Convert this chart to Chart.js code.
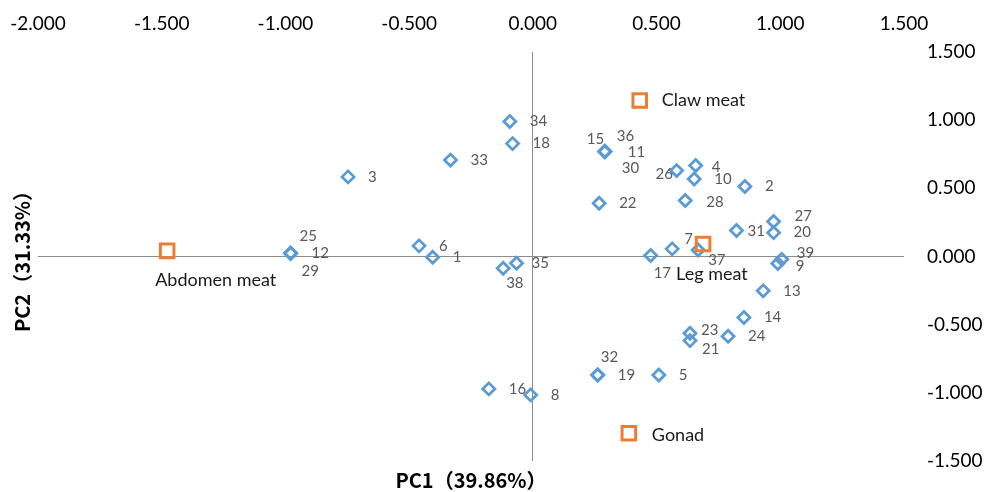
<!DOCTYPE html>
<html>
<head>
<meta charset="utf-8">
<script src="https://cdn.jsdelivr.net/npm/chart.js@4/dist/chart.umd.min.js"></script>
<style>
  html, body { margin: 0; padding: 0; background: #fff; }
  #wrap { width: 987px; height: 492px; }
</style>
</head>
<body>
<div id="wrap"><canvas id="c" width="987" height="492"></canvas></div>
<script>
// ---- data ----
const sampleIds = ['1','2','3','4','5','6','7','8','9','10','11','12','13','14','15','16','17','18','19','20',
                   '21','22','23','24','25','26','27','28','29','30','31','32','33','34','35','36','37','38','39'];
const samplePC1 = [-0.405, 0.857, -0.747, 0.658, 0.509, -0.460, 0.563, -0.009, 0.990, 0.652,
                    0.291, -0.979, 0.931, 0.853, 0.291, -0.178, 0.476, -0.082, 0.262, 0.973,
                    0.635, 0.268, 0.635, 0.789, -0.979, 0.581, 0.973, 0.616, -0.979, 0.291,
                    0.823, 0.262, -0.333, -0.093, -0.066, 0.291, 0.668, -0.120, 1.006];
const samplePC2 = [-0.005, 0.513, 0.584, 0.667, -0.869, 0.078, 0.056, -1.015, -0.051, 0.569,
                    0.770, 0.024, -0.252, -0.447, 0.770, -0.971, 0.007, 0.828, -0.869, 0.175,
                   -0.617, 0.391, -0.563, -0.585, 0.024, 0.630, 0.256, 0.410, 0.024, 0.770,
                    0.190, -0.869, 0.707, 0.990, -0.049, 0.770, 0.048, -0.086, -0.021];
const tissueNames = ['Claw meat', 'Leg meat', 'Gonad', 'Abdomen meat'];
const tissuePC1 = [0.432, 0.688, 0.388, -1.478];
const tissuePC2 = [1.144, 0.092, -1.296, 0.041];
const xTickRange = { min: -2, max: 1.5, step: 0.5 };
const yTickRange = { min: -1.5, max: 1.5, step: 0.5 };
const xTitle = 'PC1（39.86%）';
const yTitle = 'PC2（31.33%）';

// ---- label placement (style only: offsets in px from the marker) ----
const labelOffsets = {
  '25': [9, -17], '29': [11, 18], '12': [21, 0], '38': [3, 15], '35': [15, 0],
  '15': [-18, -12], '36': [12, -15], '11': [23, 1], '30': [17, 17], '26': [-21, 4],
  '4': [16, 2], '31': [11, 1], '7': [12, -10], '37': [10, 10], '17': [3, 18],
  '39': [15, -6], '9': [18, 3], '27': [21, -5], '23': [11, -3], '21': [12, 9],
  '32': [3, -18], '28': [21, 2],
  'Claw meat': [22, 0], 'Leg meat': [-27, 30], 'Gonad': [23, 2], 'Abdomen meat': [-12, 29]
};
const defaultOffset = [20, 0];

const samplePoints = samplePC1.map((v, i) => ({ x: v, y: samplePC2[i], label: sampleIds[i] }));
const tissuePoints = tissuePC1.map((v, i) => ({ x: v, y: tissuePC2[i], label: tissueNames[i] }));

const labelPlugin = {
  id: 'pointLabels',
  afterDatasetsDraw(chart) {
    const ctx = chart.ctx;
    ctx.save();
    ctx.textAlign = 'left';
    ctx.textBaseline = 'middle';
    chart.data.datasets.forEach((ds, di) => {
      const meta = chart.getDatasetMeta(di);
      ctx.font = ds.labelFont;
      ctx.fillStyle = ds.labelColor;
      meta.data.forEach((el, i) => {
        const lab = ds.data[i].label;
        const off = labelOffsets[lab] || defaultOffset;
        ctx.fillText(lab, el.x + off[0], el.y + off[1]);
      });
    });
    ctx.restore();
  }
};

const zeroLine = (c) => (c.tick && Math.abs(c.tick.value) < 1e-9) ? '#8c8c8c' : 'rgba(0,0,0,0)';
const tickFont = { family: 'Lato, "Open Sans", sans-serif', size: 19 };
const titleFont = { family: '"Noto Sans CJK SC", sans-serif', size: 20, weight: 'bold' };

new Chart(document.getElementById('c'), {
  type: 'scatter',
  data: {
    datasets: [
      {
        label: 'samples',
        data: samplePoints,
        order: 2,
        pointStyle: 'rectRot',
        pointRadius: 6,
        pointHoverRadius: 6,
        borderColor: '#5b9bd5',
        backgroundColor: 'rgba(0,0,0,0)',
        pointBorderWidth: 2.8,
        labelFont: '15px Lato, "Open Sans", sans-serif',
        labelColor: '#595959'
      },
      {
        label: 'tissues',
        data: tissuePoints,
        order: 1,
        pointStyle: 'rect',
        pointRadius: 9.6,
        pointHoverRadius: 9.6,
        borderColor: '#ed7d31',
        backgroundColor: 'rgba(0,0,0,0)',
        pointBorderWidth: 3,
        labelFont: '18px Lato, "Open Sans", sans-serif',
        labelColor: '#1a1a1a'
      }
    ]
  },
  options: {
    responsive: false,
    animation: false,
    devicePixelRatio: 1,
    layout: { padding: 0, autoPadding: false },
    plugins: { legend: { display: false }, tooltip: { enabled: false } },
    scales: {
      x: {
        type: 'linear', position: 'top',
        min: xTickRange.min, max: xTickRange.max,
        ticks: { stepSize: xTickRange.step, color: '#000', font: tickFont, padding: 0,
                 maxRotation: 0, autoSkip: false, callback: (v) => Number(v).toFixed(3) },
        grid: { color: zeroLine, lineWidth: 1, drawTicks: true, tickLength: 17, tickColor: 'rgba(0,0,0,0)' },
        border: { display: false },
        afterFit: (s) => { s.height = 52; }
      },
      y: {
        type: 'linear', position: 'right',
        min: yTickRange.min, max: yTickRange.max,
        ticks: { stepSize: yTickRange.step, color: '#000', font: tickFont, padding: 0,
                 autoSkip: false, callback: (v) => Number(v).toFixed(3) },
        grid: { color: zeroLine, lineWidth: 1, drawTicks: true, tickLength: 23, tickColor: 'rgba(0,0,0,0)' },
        border: { display: false },
        afterFit: (s) => { s.width = 83; }
      },
      x2: {
        type: 'linear', position: 'bottom', display: true,
        min: xTickRange.min, max: xTickRange.max,
        ticks: { display: false },
        grid: { display: false, drawTicks: false },
        border: { display: false },
        title: { display: true, text: xTitle, color: '#000', font: titleFont, padding: { top: 0, bottom: 0 } },
        afterFit: (s) => { s.height = 31; }
      },
      y2: {
        type: 'linear', position: 'left', display: true,
        min: yTickRange.min, max: yTickRange.max,
        ticks: { display: false },
        grid: { display: false, drawTicks: false },
        border: { display: false },
        title: { display: true, text: yTitle, color: '#000', font: titleFont, padding: { top: 10, bottom: 0 } },
        afterFit: (s) => { s.width = 38; }
      }
    }
  },
  plugins: [labelPlugin]
});
</script>
</body>
</html>
